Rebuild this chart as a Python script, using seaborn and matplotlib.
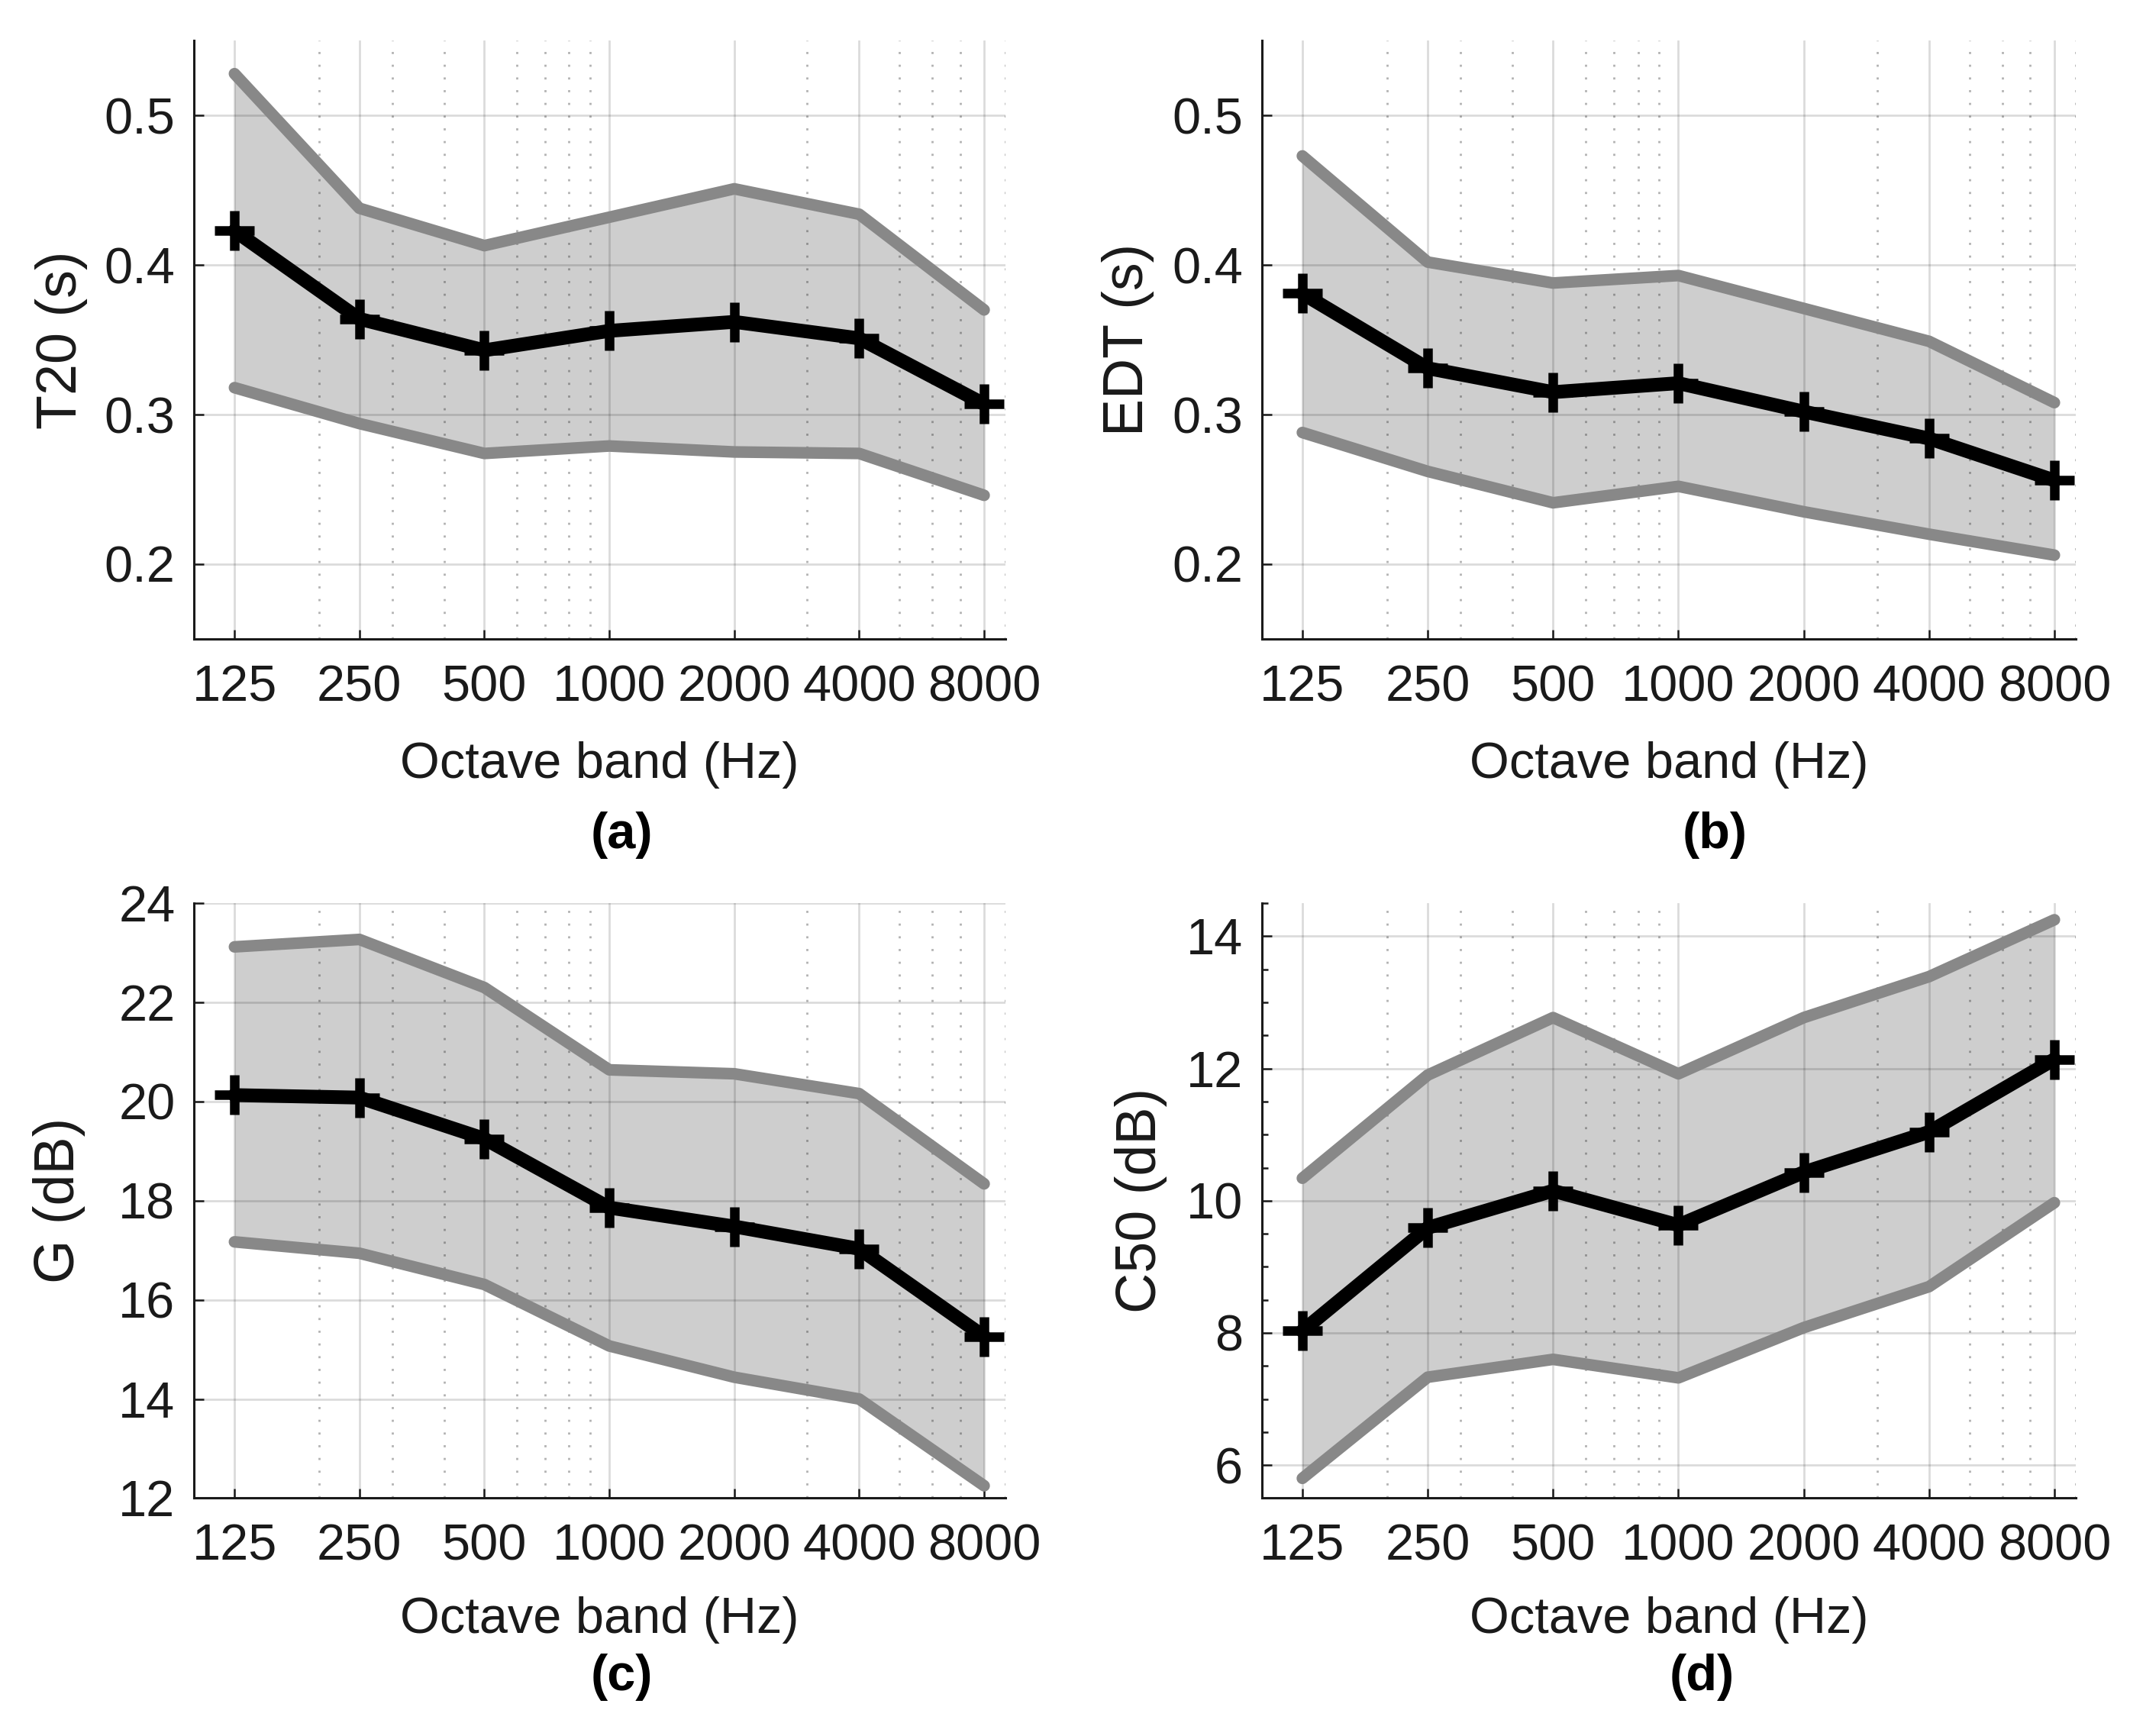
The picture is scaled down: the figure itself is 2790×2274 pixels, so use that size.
import numpy as np
import pandas as pd
import seaborn as sns
import matplotlib.pyplot as plt
from matplotlib.ticker import FixedLocator, LogLocator, NullFormatter, MultipleLocator

# octave bands
bands = [125, 250, 500, 1000, 2000, 4000, 8000]
band_labels = ['125', '250', '500', '1000', '2000', '4000', '8000']

# (a) T20
t20_mean = [0.423, 0.364, 0.343, 0.356, 0.362, 0.351, 0.307]
t20_upper = [0.528, 0.438, 0.413, 0.432, 0.451, 0.434, 0.370]
t20_lower = [0.318, 0.294, 0.274, 0.279, 0.275, 0.274, 0.246]

# (b) EDT
edt_mean = [0.381, 0.331, 0.315, 0.321, 0.302, 0.284, 0.256]
edt_upper = [0.473, 0.402, 0.388, 0.393, 0.371, 0.349, 0.308]
edt_lower = [0.288, 0.262, 0.241, 0.252, 0.235, 0.220, 0.206]

# (c) G
g_mean = [20.13, 20.08, 19.25, 17.86, 17.48, 17.03, 15.26]
g_upper = [23.12, 23.27, 22.30, 20.64, 20.56, 20.16, 18.34]
g_lower = [17.17, 16.94, 16.31, 15.07, 14.44, 14.00, 12.25]

# (d) C50
c50_mean = [8.03, 9.59, 10.15, 9.63, 10.43, 11.04, 12.14]
c50_upper = [10.34, 11.90, 12.77, 11.92, 12.77, 13.39, 14.25]
c50_lower = [5.80, 7.33, 7.60, 7.32, 8.08, 8.70, 9.97]

sns.set_theme(style='white')
plt.rcParams['font.family'] = ['Liberation Sans', 'DejaVu Sans']
fs = 48
text_col = '#1a1a1a'

fig = plt.figure(figsize=(27.9, 22.74), dpi=100)

panels = [
    dict(rect=[0.0912, 0.632, 0.3808, 0.3445], mean=t20_mean, up=t20_upper, lo=t20_lower,
         ylabel='T20 (s)', ylim=(0.15, 0.55), yticks=[0.2, 0.3, 0.4, 0.5], fmt='{:.1f}',
         minor=None, ylab_x=-0.164, xlab_y=-0.211, tag='(a)', tag_xy=(0.292, 0.519)),
    dict(rect=[0.5925, 0.632, 0.382, 0.3445], mean=edt_mean, up=edt_upper, lo=edt_lower,
         ylabel='EDT (s)', ylim=(0.15, 0.55), yticks=[0.2, 0.3, 0.4, 0.5], fmt='{:.1f}',
         minor=None, ylab_x=-0.165, xlab_y=-0.211, tag='(b)', tag_xy=(0.805, 0.519)),
    dict(rect=[0.0912, 0.137, 0.3808, 0.3427], mean=g_mean, up=g_upper, lo=g_lower,
         ylabel='G (dB)', ylim=(12, 24), yticks=[12, 14, 16, 18, 20, 22, 24], fmt='{:.0f}',
         minor=None, ylab_x=-0.167, xlab_y=-0.205, tag='(c)', tag_xy=(0.292, 0.034)),
    dict(rect=[0.5925, 0.137, 0.382, 0.3427], mean=c50_mean, up=c50_upper, lo=c50_lower,
         ylabel='C50 (dB)', ylim=(5.5, 14.5), yticks=[6, 8, 10, 12, 14], fmt='{:.0f}',
         minor=0.5, ylab_x=-0.149, xlab_y=-0.205, tag='(d)', tag_xy=(0.799, 0.034)),
]

for p in panels:
    ax = fig.add_axes(p['rect'])
    df = pd.DataFrame({'band': bands, 'mean': p['mean'], 'upper': p['up'], 'lower': p['lo']})

    # spread band, then its edges, then the mean on top
    ax.fill_between(df['band'], df['lower'], df['upper'], color='#cecece', lw=0, zorder=1)
    sns.lineplot(data=df, x='band', y='upper', ax=ax, color='#888888', lw=11, zorder=2)
    sns.lineplot(data=df, x='band', y='lower', ax=ax, color='#888888', lw=11, zorder=2)
    sns.lineplot(data=df, x='band', y='mean', ax=ax, color='black', lw=13, marker='+',
                 markersize=38, markeredgewidth=9, markeredgecolor='black', zorder=3)

    ax.set_xscale('log')
    ax.set_xlim(100, 9000)
    ax.set_ylim(*p['ylim'])
    ax.xaxis.set_major_locator(FixedLocator(bands))
    ax.set_xticklabels(band_labels)
    ax.xaxis.set_minor_locator(LogLocator(base=10, subs=np.arange(2, 10)))
    ax.xaxis.set_minor_formatter(NullFormatter())
    ax.set_yticks(p['yticks'])
    ax.set_yticklabels([p['fmt'].format(v) for v in p['yticks']])
    if p['minor']:
        ax.yaxis.set_minor_locator(MultipleLocator(p['minor']))

    ax.set_axisbelow('line')
    ax.grid(which='major', color='black', alpha=0.14, lw=2)
    ax.grid(which='minor', axis='x', color='black', alpha=0.3, lw=2, ls=(0, (1, 5)))
    ax.grid(which='minor', axis='y', visible=False)

    for side in ['top', 'right']:
        ax.spines[side].set_visible(False)
    for side in ['left', 'bottom']:
        ax.spines[side].set_linewidth(2.2)
        ax.spines[side].set_color(text_col)

    ax.tick_params(which='major', direction='in', length=9, width=1.8, colors=text_col,
                   labelsize=fs, left=True, bottom=True)
    ax.tick_params(axis='x', which='major', pad=24)
    ax.tick_params(axis='y', which='major', pad=18)
    ax.tick_params(axis='x', which='minor', length=0)
    ax.tick_params(axis='y', which='minor', direction='in', length=5.5, width=1.8,
                   colors=text_col, left=True)

    ax.set_xlabel('Octave band (Hz)', fontsize=fs, color=text_col, va='center')
    ax.xaxis.set_label_coords(0.5, p['xlab_y'])
    ax.set_ylabel(p['ylabel'], fontsize=53, color=text_col, va='center')
    ax.yaxis.set_label_coords(p['ylab_x'], 0.5)

    fig.text(p['tag_xy'][0], p['tag_xy'][1], p['tag'], fontsize=fs, fontweight='bold',
             ha='center', va='center', color='black')

fig.savefig('out.png', dpi=100)
